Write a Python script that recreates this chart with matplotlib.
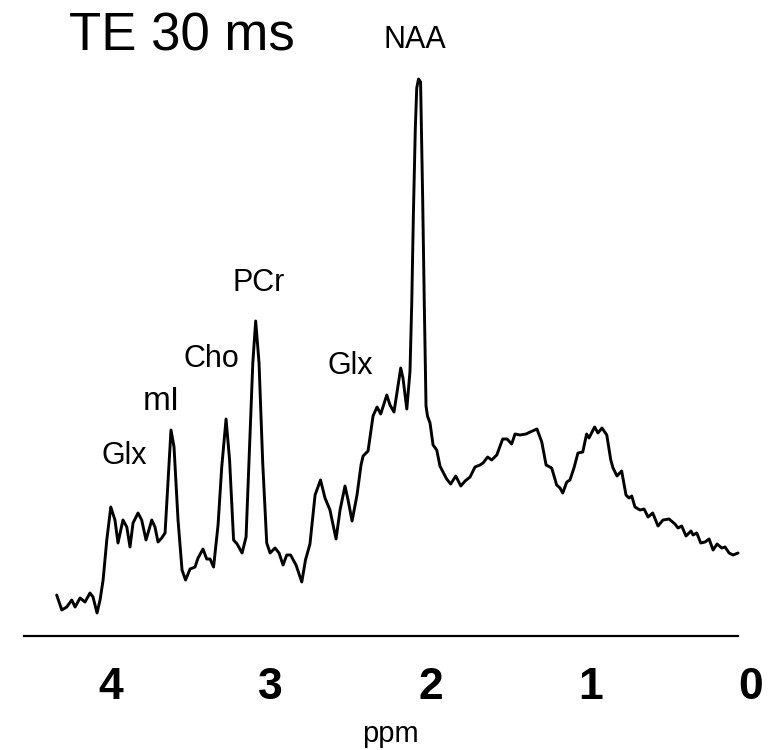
import numpy as np
import matplotlib
matplotlib.use("Agg")
import matplotlib.pyplot as plt

# spectrum: chemical shift (ppm) and signal (a.u.)
ppm = np.array([
    4.337, 4.305, 4.274, 4.243, 4.222, 4.191, 4.160, 4.129, 4.110, 4.085,
    4.066, 4.047, 4.024, 3.999, 3.973, 3.954, 3.923, 3.899, 3.879, 3.860,
    3.829, 3.806, 3.779, 3.743, 3.723, 3.704, 3.681, 3.660, 3.641, 3.623,
    3.604, 3.579, 3.554, 3.532, 3.504, 3.473, 3.454, 3.423, 3.400, 3.379,
    3.357, 3.329, 3.306, 3.279, 3.257, 3.232, 3.210, 3.179, 3.154, 3.136,
    3.112, 3.094, 3.073, 3.050, 3.025, 3.004, 2.973, 2.948, 2.923, 2.900,
    2.876, 2.842, 2.806, 2.783, 2.755, 2.723, 2.689, 2.661, 2.630, 2.592,
    2.567, 2.536, 2.517, 2.492, 2.461, 2.436, 2.423, 2.392, 2.361, 2.336,
    2.313, 2.275, 2.255, 2.230, 2.188, 2.174, 2.150, 2.130, 2.119, 2.109,
    2.097, 2.088, 2.077, 2.064, 2.051, 2.041, 2.030, 2.021, 2.005, 1.986,
    1.963, 1.943, 1.924, 1.901, 1.876, 1.844, 1.813, 1.786, 1.755, 1.724,
    1.693, 1.674, 1.645, 1.620, 1.588, 1.551, 1.524, 1.495, 1.474, 1.443,
    1.405, 1.380, 1.337, 1.307, 1.280, 1.245, 1.214, 1.193, 1.176, 1.151,
    1.131, 1.106, 1.081, 1.051, 1.027, 1.012, 0.977, 0.956, 0.931, 0.901,
    0.876, 0.862, 0.837, 0.808, 0.781, 0.762, 0.745, 0.725, 0.693, 0.668,
    0.643, 0.614, 0.581, 0.550, 0.512, 0.475, 0.456, 0.433, 0.406, 0.375,
    0.362, 0.339, 0.314, 0.287, 0.262, 0.237, 0.212, 0.183, 0.162, 0.137,
    0.112, 0.081,
])
sinal = np.array([
    41, 26, 29, 36, 29, 38, 34, 43, 39, 23,
    36, 56, 96, 129, 116, 93, 116, 109, 89, 113,
    123, 116, 96, 116, 109, 94, 98, 103, 156, 206,
    189, 116, 66, 56, 67, 69, 78, 87, 77, 77,
    69, 111, 169, 217, 176, 96, 92, 83, 99, 173,
    273, 315, 273, 173, 93, 83, 88, 83, 71, 81,
    81, 71, 54, 76, 92, 141, 156, 138, 126, 97,
    126, 150, 136, 115, 141, 171, 180, 185, 220, 229,
    222, 241, 231, 224, 268, 258, 227, 265, 334, 421,
    507, 548, 557, 554, 438, 334, 230, 220, 213, 191,
    186, 170, 164, 157, 152, 160, 150, 155, 159, 169,
    171, 173, 179, 176, 181, 197, 197, 192, 202, 201,
    202, 204, 207, 194, 171, 168, 151, 148, 143, 154,
    156, 168, 183, 184, 202, 198, 209, 203, 208, 201,
    176, 168, 160, 165, 141, 138, 140, 129, 126, 127,
    119, 123, 110, 116, 117, 112, 108, 110, 100, 105,
    101, 103, 93, 94, 97, 86, 92, 88, 89, 83,
    81, 83,
])
assert len(ppm) == len(sinal)

# metabolite labels: text, ppm, height
rotulos = ["NAA", "PCr", "Cho", "mI", "Glx", "Glx"]
rotulos_ppm = [2.099, 3.073, 3.370, 3.685, 3.913, 2.505]
rotulos_alt = [596, 353, 277, 235, 180, 270]
rotulos_tam = [22, 22, 22, 24, 22, 22]

ticks_ppm = [4, 3, 2, 1, 0]
eixo_inicio, eixo_fim = 4.54, 0.08

fonte = ["Liberation Sans", "DejaVu Sans"]
fonte_ticks = ["Liberation Sans Narrow", "Liberation Sans", "DejaVu Sans"]

fig = plt.figure(figsize=(7.8, 7.5), dpi=100)
ax = fig.add_axes([0, 0, 1, 1])
ax.plot(ppm, sinal, color="black", linewidth=2.1,
        solid_joinstyle="round", solid_capstyle="round")

ax.set_xlim(4.691, -0.181)
ax.set_ylim(-114, 636)

# only the bottom line is kept, as the ppm axis
for lado in ["left", "right", "top"]:
    ax.spines[lado].set_visible(False)
ax.spines["bottom"].set_position(("data", 0))
ax.spines["bottom"].set_bounds(eixo_inicio, eixo_fim)
ax.spines["bottom"].set_linewidth(1.6)
ax.set_yticks([])
ax.set_xticks(ticks_ppm)
ax.set_xticklabels([str(t) for t in ticks_ppm])
ax.tick_params(axis="x", length=0, pad=22)
for lab in ax.get_xticklabels():
    lab.set_fontfamily(fonte_ticks)
    lab.set_fontweight("bold")
    lab.set_fontstretch("condensed")
    lab.set_fontsize(32)
ax.set_xlabel("ppm", family=fonte, fontsize=21, labelpad=9)

for txt, x, y, tam in zip(rotulos, rotulos_ppm, rotulos_alt, rotulos_tam):
    ax.text(x, y, txt, family=fonte, fontsize=tam, ha="center", va="center")

ax.text(0.233, 0.951, "TE 30 ms", transform=ax.transAxes, family=fonte,
        fontsize=38, ha="center", va="center")

fig.savefig("out.png", dpi=100)
